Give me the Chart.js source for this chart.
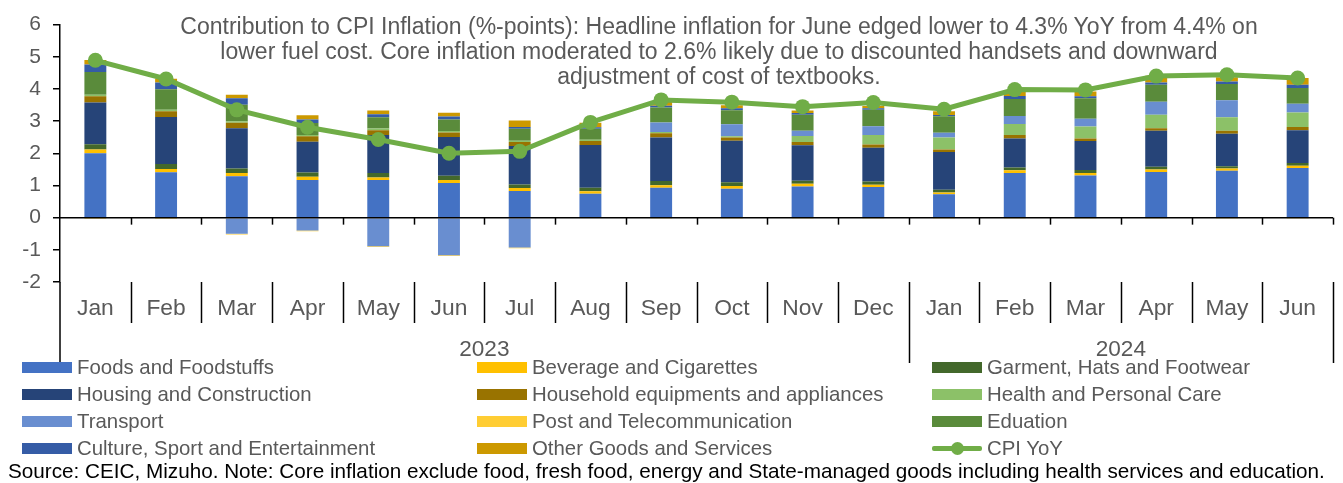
<!DOCTYPE html>
<html>
<head>
    <title>Contribution to CPI Inflation</title>
    <script src="https://cdn.jsdelivr.net/npm/chart.js"></script>
    <style>
        body { margin: 0; background: #fff; font-family: "Liberation Sans", Arial, sans-serif; }
        #wrap { position: relative; width: 1343px; height: 483px; overflow: hidden; }
        #titulo { position: absolute; left: 0; width: 1438px; top: 14px; text-align: center;
                  font-size: 23px; line-height: 25px; color: #595959; pointer-events: none; }
        #leyenda { position: absolute; left: 22px; top: 354px; display: grid;
                   grid-template-columns: 455px 455px 455px; grid-auto-rows: 27px; }
        .item { display: flex; align-items: center; font-size: 20.4px; color: #595959; white-space: nowrap; }
        .caja { width: 50px; height: 11px; margin-right: 5px; flex: none; position: relative; }
        .linea { height: 5px; border-radius: 2px; }
        .punto { position: absolute; left: 19px; top: -4px; width: 13px; height: 13px; border-radius: 50%; }
        #fuente { position: absolute; left: 8px; top: 459px; font-size: 20.7px; color: #000; white-space: nowrap; }
    </style>
</head>
<body>
<div id="wrap">
    <canvas id="cpiChart" width="1343" height="483"></canvas>
    <div id="titulo">Contribution to CPI Inflation (%-points): Headline inflation for June edged lower to 4.3% YoY from 4.4% on<br>
        lower fuel cost. Core inflation moderated to 2.6% likely due to discounted handsets and downward<br>
        adjustment of cost of textbooks.</div>
    <div id="leyenda"></div>
    <div id="fuente">Source: CEIC, Mizuho. Note: Core inflation exclude food, fresh food, energy and State-managed goods including health services and education.</div>
</div>

<script>
    // categorias
    var months = ['Jan', 'Feb', 'Mar', 'Apr', 'May', 'Jun', 'Jul', 'Aug', 'Sep', 'Oct', 'Nov', 'Dec',
                  'Jan', 'Feb', 'Mar', 'Apr', 'May', 'Jun'];
    var years = ['2023', '2024'];
    var yearSpans = [12, 6];

    // contribuciones (%-points)
    var foods     = [2.00, 1.41, 1.29, 1.17, 1.17, 1.08, 0.83, 0.74, 0.93, 0.90, 0.97, 0.95, 0.73, 1.39, 1.31, 1.42, 1.46, 1.54];
    var beverage  = [0.12, 0.10, 0.10, 0.10, 0.08, 0.09, 0.09, 0.08, 0.08, 0.08, 0.08, 0.07, 0.05, 0.08, 0.08, 0.08, 0.07, 0.07];
    var garment   = [0.16, 0.16, 0.14, 0.13, 0.14, 0.13, 0.11, 0.11, 0.13, 0.12, 0.10, 0.10, 0.09, 0.09, 0.09, 0.08, 0.07, 0.09];
    var housing   = [1.30, 1.46, 1.25, 0.96, 1.18, 1.21, 1.20, 1.33, 1.35, 1.29, 1.10, 1.05, 1.17, 0.90, 0.90, 1.12, 1.01, 1.02];
    var household = [0.19, 0.18, 0.17, 0.17, 0.15, 0.14, 0.12, 0.12, 0.13, 0.10, 0.10, 0.10, 0.08, 0.11, 0.08, 0.08, 0.09, 0.10];
    var health    = [0.05, 0.04, 0.05, 0.04, 0.05, 0.04, 0.04, 0.04, 0.04, 0.04, 0.19, 0.30, 0.37, 0.34, 0.37, 0.42, 0.42, 0.45];
    var transport = [0.00, 0.00, -0.50, -0.40, -0.89, -1.17, -0.93, 0.00, 0.30, 0.37, 0.16, 0.27, 0.15, 0.25, 0.24, 0.40, 0.53, 0.27];
    var post      = [-0.01, -0.01, -0.02, -0.02, -0.02, -0.02, -0.02, -0.03, -0.02, -0.02, -0.02, -0.02, -0.02, -0.02, -0.02, -0.02, -0.02, -0.02];
    var education = [0.71, 0.64, 0.51, 0.37, 0.35, 0.36, 0.37, 0.34, 0.46, 0.44, 0.50, 0.51, 0.51, 0.53, 0.64, 0.53, 0.50, 0.49];
    var culture   = [0.23, 0.21, 0.20, 0.11, 0.09, 0.09, 0.06, 0.05, 0.06, 0.06, 0.05, 0.05, 0.04, 0.09, 0.06, 0.07, 0.08, 0.10];
    var other     = [0.14, 0.12, 0.11, 0.13, 0.12, 0.12, 0.20, 0.14, 0.12, 0.09, 0.08, 0.07, 0.12, 0.17, 0.15, 0.21, 0.13, 0.21];
    var cpiYoY    = [4.89, 4.31, 3.35, 2.81, 2.43, 2.00, 2.06, 2.96, 3.66, 3.59, 3.45, 3.58, 3.37, 3.98, 3.97, 4.40, 4.44, 4.34];

    var gris = '#595959';
    var fuente = '"Liberation Sans", Arial, sans-serif';

    function barra(label, data, color) {
        return {
            type: 'bar', label: label, data: data, backgroundColor: color,
            stack: 'cpi', order: 1, barPercentage: 0.31, categoryPercentage: 1
        };
    }

    // lineas del eje: cero, separadores de meses y de anos
    var ejes = {
        id: 'ejes',
        afterDatasetsDraw: function (chart) {
            var ctx = chart.ctx, a = chart.chartArea, x = chart.scales.x, y = chart.scales.y;
            var y0 = y.getPixelForValue(0);
            var paso = x.getPixelForValue(1) - x.getPixelForValue(0);
            function linea(x1, y1, x2, y2) { ctx.beginPath(); ctx.moveTo(x1, y1); ctx.lineTo(x2, y2); ctx.stroke(); }
            ctx.save();
            ctx.strokeStyle = '#000';
            ctx.lineWidth = 1.5;
            linea(a.left, y0, a.right, y0);
            var limites = [];
            var acc = 0;
            yearSpans.forEach(function (n) { acc += n; limites.push(acc); });
            for (var i = 1; i <= months.length; i++) {
                var bx = Math.round(x.getPixelForValue(i) - paso / 2) + 0.5;
                linea(bx, y0, bx, y0 + 7);
                var largo = limites.indexOf(i) >= 0 ? 81 : 41;
                linea(bx, a.bottom, bx, a.bottom + largo);
            }
            linea(a.left, a.bottom, a.left, a.bottom + 80);
            // etiquetas de ano
            ctx.fillStyle = gris;
            ctx.font = '22.6px ' + fuente;
            ctx.textAlign = 'center';
            ctx.textBaseline = 'middle';
            var inicio = 0;
            years.forEach(function (yr, k) {
                var fin = inicio + yearSpans[k];
                var xa = x.getPixelForValue(inicio) - paso / 2;
                var xb = x.getPixelForValue(fin - 1) + paso / 2;
                ctx.fillText(yr, (xa + xb) / 2, a.bottom + 68);
                inicio = fin;
            });
            ctx.restore();
        }
    };

    var ctx = document.getElementById('cpiChart').getContext('2d');
    var cpiChart = new Chart(ctx, {
        data: {
            labels: months,
            datasets: [
                barra('Foods and Foodstuffs', foods, '#4472C4'),
                barra('Beverage and Cigarettes', beverage, '#FFC000'),
                barra('Garment, Hats and Footwear', garment, '#43682B'),
                barra('Housing and Construction', housing, '#264478'),
                barra('Household equipments and appliances', household, '#997300'),
                barra('Health and Personal Care', health, '#8CC168'),
                barra('Transport', transport, '#698ED0'),
                barra('Post and Telecommunication', post, '#FFCD33'),
                barra('Eduation', education, '#5A8B3B'),
                barra('Culture, Sport and Entertainment', culture, '#355CA6'),
                barra('Other Goods and Services', other, '#CC9900'),
                {
                    type: 'line', label: 'CPI YoY', data: cpiYoY, stack: 'yoy', order: 0,
                    borderColor: '#70AD47', backgroundColor: '#70AD47', borderWidth: 5,
                    pointRadius: 7.5, pointBackgroundColor: '#70AD47', pointBorderWidth: 0, tension: 0
                }
            ]
        },
        options: {
            responsive: false,
            animation: false,
            layout: { padding: { top: 21, right: 10, bottom: 151, left: 0 } },
            plugins: { legend: { display: false }, tooltip: { enabled: false } },
            scales: {
                x: {
                    stacked: true,
                    grid: { display: false },
                    border: { display: false },
                    ticks: { color: gris, font: { family: fuente, size: 22.8 }, padding: 5, maxRotation: 0 },
                    afterFit: function (s) { s.height = 50; }
                },
                y: {
                    stacked: true,
                    min: -2, max: 6,
                    grid: { drawOnChartArea: false, tickLength: 7, color: '#000', lineWidth: 1.5 },
                    border: { display: true, color: '#000', width: 1.5 },
                    ticks: { stepSize: 1, color: gris, font: { family: fuente, size: 21 }, padding: 12 },
                    afterFit: function (s) { s.width = 60; }
                }
            }
        },
        plugins: [ejes]
    });

    // leyenda en HTML a partir de los datasets
    var leyenda = document.getElementById('leyenda');
    cpiChart.data.datasets.forEach(function (ds) {
        var item = document.createElement('div');
        item.className = 'item';
        var caja = document.createElement('span');
        caja.className = 'caja';
        if (ds.type === 'line') {
            caja.className = 'caja linea';
            caja.style.background = ds.borderColor;
            var punto = document.createElement('span');
            punto.className = 'punto';
            punto.style.background = ds.borderColor;
            caja.appendChild(punto);
        } else {
            caja.style.background = ds.backgroundColor;
        }
        item.appendChild(caja);
        item.appendChild(document.createTextNode(ds.label));
        leyenda.appendChild(item);
    });
</script>
</body>
</html>
